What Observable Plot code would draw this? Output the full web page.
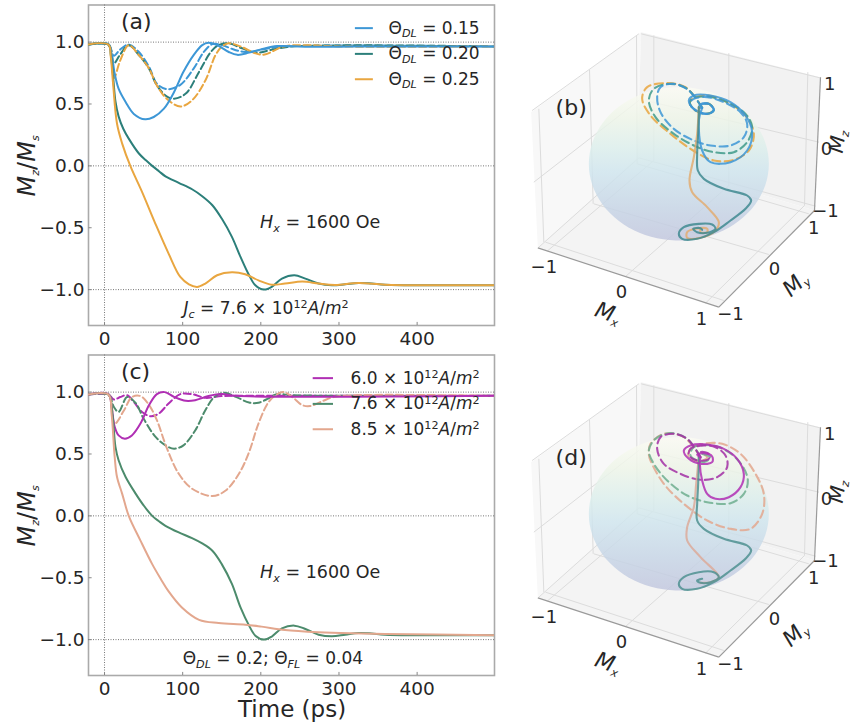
<!DOCTYPE html>
<html><head><meta charset="utf-8">
<script src="https://cdn.jsdelivr.net/npm/d3@7"></script>
<script src="https://cdn.jsdelivr.net/npm/@observablehq/plot@0.6"></script>
<style>
html,body{margin:0;padding:0;background:#fff}
#fig{position:relative;width:851px;height:725px;overflow:hidden;background:#fff;font-family:"DejaVu Sans"}
#fig svg{position:absolute;overflow:visible;background:transparent}
</style></head><body><div id="fig"></div>
<script>
// ---------- time traces: [time (ps), Mz/Ms] ----------
const aSolid015=[[-21,.98],[5,.984],[9,.908],[13,.746],[18,.624],[27,.516],[37.5,.42],[52,.376],[63,.395],[76,.462],[89,.597],[101,.76],[114,.895],[125,.976],[133,.995],[144,.976],[159,.92],[170,.897],[185,.915],[200,.94],[221,.968],[260,.962],[320,.965],[500,.965]];
const aSolid020=[[-21,.98],[5,.98],[8,.9],[11,.72],[14,.52],[18,.4],[24,.3],[31,.22],[44,.1],[53,.045],[61,0],[70,-.045],[78,-.085],[95,-.137],[112,-.189],[125,-.245],[138,-.318],[150,-.426],[163,-.574],[174,-.736],[185,-.884],[193,-.965],[204,-1],[214,-.978],[227,-.911],[243,-.884],[257,-.911],[274,-.951],[291,-.965],[308,-.957],[325,-.946],[342,-.951],[359,-.96],[420,-.965],[500,-.965]];
const aSolid025=[[-21,.98],[5,.98],[8,.88],[11,.66],[16,.34],[22.6,.18],[33,0],[48,-.21],[65,-.466],[82,-.709],[97,-.898],[108,-.957],[118.5,-.978],[129,-.951],[144,-.884],[163,-.86],[180,-.876],[197,-.925],[214,-.96],[231,-.951],[253,-.935],[274,-.951],[295,-.962],[325,-.946],[359,-.96],[420,-.965],[500,-.965]];
const aDash015=[[-21,.98],[5,.98],[12,.89],[20,.94],[31,.98],[44,.92],[57,.8],[67,.665],[80,.62],[97,.655],[114,.786],[127,.92],[138,.984],[150,.976],[168,.935],[185,.92],[205,.945],[230,.965],[500,.965]];
const aDash020=[[-21,.98],[5,.98],[12,.83],[20,.9],[31,.975],[44,.895],[57,.786],[67,.65],[80,.56],[89,.543],[104,.584],[121,.76],[136,.92],[146,.976],[159,.99],[176,.95],[195,.915],[215,.94],[240,.965],[500,.965]];
const aDash025=[[-21,.98],[5,.98],[12,.71],[20,.85],[31,.975],[44,.895],[57,.786],[67,.65],[80,.54],[97,.48],[112,.53],[129,.69],[142,.895],[150,.962],[159,.99],[176,.96],[193,.91],[205,.9],[229,.965],[260,.975],[300,.965],[500,.965]];

const cSolid60=[[-21,.98],[5,.984],[9,.88],[13,.72],[18,.65],[26,.624],[35,.65],[46,.746],[57,.895],[67,.984],[77,1],[89,.962],[104,.93],[116,.935],[133,.968],[150,.984],[168,.97],[500,.97]];
const cSolid76=[[-21,.98],[5,.98],[10,.827],[14,.557],[18,.449],[27,.314],[40,.178],[50,.085],[61,0],[70,-.045],[78,-.08],[95,-.134],[112,-.18],[125,-.223],[138,-.282],[150,-.39],[163,-.55],[174,-.74],[185,-.887],[193,-.968],[204,-1],[214,-.975],[227,-.909],[243,-.887],[257,-.914],[274,-.96],[291,-.973],[308,-.96],[325,-.946],[342,-.95],[359,-.96],[500,-.965]];
const cSolid85=[[-21,.98],[5,.98],[9,.827],[13,.476],[16,.314],[22.6,.178],[31,0],[46,-.2],[61,-.39],[72,-.51],[82,-.61],[99,-.74],[121,-.84],[146,-.866],[180,-.879],[201,-.895],[231,-.922],[274,-.94],[316,-.949],[359,-.954],[500,-.965]];
const cDash60=[[-21,.98],[5,.98],[12,.94],[20,.96],[29,.975],[37.5,.92],[48,.84],[59,.805],[69.5,.827],[82,.908],[97,.984],[112,.984],[129,.954],[150,.968],[180,.97],[500,.97]];
const cDash76=[[-21,.98],[5,.98],[12,.88],[18,.84],[29,.96],[40,.91],[50,.786],[65,.64],[78,.57],[89,.543],[101,.57],[116,.69],[129,.854],[140,.957],[153,.995],[168,.962],[185,.916],[197,.914],[210,.95],[221,.984],[240,.975],[500,.97]];
const cDash85=[[-21,.98],[5,.98],[13,.746],[25,.854],[35,.96],[46,.968],[57,.895],[67,.773],[80,.543],[95,.34],[112,.22],[138,.16],[155,.205],[172,.34],[185,.516],[197,.746],[210,.92],[221,.984],[229,1],[240,.962],[253,.895],[263,.887],[280,.93],[293,.96],[320,.975],[500,.97]];

const bSolid015=[[70,173],[60,135],[70,45],[95,10],[155,10],[205,45],[220,100],[200,150],[155,190],[95,210],[45,210],[30,195],[45,170],[85,155],[105,165],[90,185],[67,185],[60,173],[70,173]];
const bDash015=[[70,173],[30,225],[-15,245],[-55,235],[-65,205],[-55,160],[-15,110],[45,75],[95,60],[155,60],[195,85],[205,125],[185,160],[135,190],[85,205],[45,200],[33,187],[50,165],[85,155],[105,167],[90,185],[67,183]];
const bDash020=[[70,173],[25,230],[-25,245],[-75,230],[-90,195],[-70,145],[-15,95],[45,60],[105,40],[165,40],[205,70],[220,115],[200,155],[145,190],[85,207],[40,200],[33,187],[50,165],[85,155],[105,167],[90,185],[67,183]];
const bDash025=[[70,173],[20,235],[-35,247],[-95,235],[-110,200],[-85,150],[-25,95],[35,50],[105,15],[165,17],[210,45],[225,95],[200,150],[145,190],[85,210],[40,200],[33,187],[50,165],[85,155],[105,167],[90,185],[67,183]];
const bSolid020=[[60,175],[60,155],[58,95],[55,35],[57,-15],[75,-40],[135,-70],[205,-90],[217,-105],[200,-130],[155,-165],[105,-200],[55,-220],[10,-220],[0,-205],[15,-185],[60,-175],[100,-177],[110,-190],[85,-202],[55,-200],[43,-190],[65,-188],[70,-193]];
const bSolid025=[[60,175],[55,95],[45,25],[32,-45],[40,-80],[85,-125],[120,-170],[110,-195],[65,-217],[25,-217],[25,-200],[50,-190],[85,-190],[85,-200],[65,-200],[65,-190]];

const dSolid60=[[65,175],[63,155],[70,105],[85,65],[110,50],[150,55],[185,85],[195,125],[175,170],[135,200],[85,213],[35,210],[15,195],[30,170],[65,155],[100,160],[100,177],[75,187],[55,183],[65,175]];
const dDash60=[[65,175],[25,230],[-15,245],[-55,235],[-65,200],[-45,155],[5,125],[65,107],[115,115],[145,145],[140,180],[110,205],[75,210],[35,200],[30,180],[55,165],[90,170],[90,185],[65,190],[60,175]];
const dDash76=[[65,175],[25,230],[-25,247],[-70,230],[-90,195],[-75,155],[-35,105],[25,60],[85,40],[155,37],[195,65],[207,105],[190,150],[150,190],[100,210],[45,205],[35,180],[75,160],[95,175],[70,185]];
const dDash85=[[65,175],[15,235],[-45,245],[-85,215],[-90,185],[-85,165],[-45,95],[15,35],[85,-15],[155,-40],[215,-40],[250,5],[255,65],[230,125],[185,185],[130,215],[75,215],[35,200],[30,175],[65,163],[85,175],[70,185]];
const dSolid76=[[60,175],[60,155],[58,95],[55,35],[55,-15],[75,-40],[135,-70],[205,-90],[217,-105],[200,-130],[155,-165],[105,-200],[55,-220],[10,-220],[0,-205],[15,-185],[60,-170],[105,-170],[120,-185],[95,-200],[65,-202],[55,-195],[70,-190]];
const dSolid85=[[60,175],[52,95],[45,25],[25,-35],[25,-75],[65,-125],[120,-185],[95,-200],[65,-202]];

// box of the 3D view
const wallLeft=[[-423,-247],[-443,160],[-113,400],[-125,25]];
const wallBack=[[-125,25],[-113,400],[425,265],[407,-135]];
const wallFloor=[[-423,-247],[120,-425],[407,-135],[-125,25]];
const gridSegments=[[-75,390,-75,15],[150,337,150,-60],[387,280,377,-120],[-420,170,-405,-230],[-268,287,-257,-115],[-127,390,-125,5],[-113,395,423,263],[-440,165,-120,395],[-100,195,420,70],[-435,-50,-120,195],[-120,23,410,-122],[-420,-245,-120,23],[-395,-257,-75,15],[-160,-333,150,-60],[80,-413,377,-120],[-400,-230,135,-405],[-255,-115,270,-267],[-125,5,390,-145]];
const axisSegments=[[-423,-247,120,-425],[120,-425,407,-135],[407,-135,425,265]];
const cubeTicks=[{u:-405,v:-305,t:"−1"},{u:-172,v:-380,t:"0"},{u:68,v:-460,t:"1"},{u:155,v:-445,t:"−1"},{u:287,v:-310,t:"0"},{u:405,v:-188,t:"1"},{u:440,v:-138,t:"−1"},{u:443,v:50,t:"0"},{u:453,v:245,t:"1"}];
const cubeAxisLabels=[{u:-213,v:-443,t:"*M*_{x}",r:20,s:22},{u:350,v:-355,t:"*M*_{y}",r:-42,s:22},{u:477,v:72,t:"*M*_{z}",r:-82,s:20}];

// ---------- labels / ticks ----------
const xTicks=[0,100,200,300,400];
const yTicks=[-1,-.5,0,.5,1];
const legendA=["Θ_{DL} = 0.15","Θ_{DL} = 0.20","Θ_{DL} = 0.25"];
const legendC=["6.0 × 10^{12}*A*/*m*^{2}","7.6 × 10^{12}*A*/*m*^{2}","8.5 × 10^{12}*A*/*m*^{2}"];
const legendY=[1.113,.905,.70];
const colorsA=["#3d97d6","#2c7f7a","#e9a640"];
const colorsC=["#b02fb4","#4c8b6c","#e3a78e"];

function richify(svg){
  svg.querySelectorAll("text").forEach(el=>{
    const s=el.textContent;
    if(!/[*_^]/.test(s))return;
    el.textContent="";
    let shift=0;
    const size=parseFloat(el.getAttribute("font-size")||getComputedStyle(el).fontSize)||16;
    for(const tok of s.match(/\*[^*]+\*|_\{[^}]*\}|\^\{[^}]*\}|[^*_^]+/g)){
      const ts=document.createElementNS("http://www.w3.org/2000/svg","tspan");
      let want=0,txt=tok;
      if(tok[0]==="*"){txt=tok.slice(1,-1);ts.setAttribute("font-style","italic");}
      else if(tok[0]==="_"){txt=tok.slice(2,-1);want=size*.22;ts.setAttribute("font-size",size*.7);ts.setAttribute("font-style","italic");}
      else if(tok[0]==="^"){txt=tok.slice(2,-1);want=-size*.36;ts.setAttribute("font-size",size*.7);}
      if(want!==shift)ts.setAttribute("dy",want-shift);
      shift=want;ts.textContent=txt;el.appendChild(ts);
    }
  });
  return svg;
}

const line=(data,color,dash)=>Plot.line(data,{x:d=>d[0],y:d=>d[1],stroke:color,strokeWidth:2,strokeDasharray:dash?"7,3.5":null,curve:"catmull-rom",clip:true});

function timePanel({top,height,marginBottom,name,solids,dashes,colors,legend,lx1,lx2,lend,foot,footX,time}){
  const marks=[
    Plot.frame({stroke:"#aaa",strokeWidth:1.6}),
    Plot.ruleY([1,0,-1],{stroke:"#777",strokeWidth:1,strokeDasharray:"1,1.5"}),
    Plot.ruleX([0],{stroke:"#777",strokeWidth:1,strokeDasharray:"1,1.5"}),
    Plot.ruleX(xTicks,{y1:-1.29,y2:-1.265,stroke:"#888"}),
    Plot.link(yTicks,{x1:-20.5,x2:-16.5,y1:d=>d,y2:d=>d,stroke:"#888"}),
    Plot.axisX({ticks:xTicks,tickSize:0,tickPadding:6,fontSize:18.5,label:null,color:"#262626"}),
    Plot.axisY({ticks:yTicks,tickSize:0,tickPadding:4,fontSize:18.5,label:null,tickFormat:d3.format(".1f"),color:"#262626"}),
    ...dashes.map((d,i)=>line(d,colors[i],true)),
    ...solids.map((d,i)=>line(d,colors[i],false)),
    ...legendY.map((y,i)=>Plot.ruleY([y],{x1:lx1,x2:lx2,stroke:colors[i],strokeWidth:2})),
    Plot.text(legend,{x:lend,y:(d,i)=>legendY[i],textAnchor:"end",fontSize:17,fill:"#262626"}),
    Plot.text([name],{x:()=>21,y:()=>1.16,textAnchor:"start",fontSize:22,fill:"#262626"}),
    Plot.text(["*H*_{x} = 1600 Oe"],{x:()=>199,y:()=>-.457,textAnchor:"start",fontSize:17.5,fill:"#262626"}),
    Plot.text([foot],{x:()=>footX,y:()=>-1.155,textAnchor:"start",fontSize:17,fill:"#262626"}),
    Plot.text(["*M*_{z}/*M*_{s}"],{frameAnchor:"left",dx:-61,y:()=>0,rotate:-90,textAnchor:"middle",fontSize:24,fill:"#262626"})
  ];
  if(time)marks.push(Plot.text(["Time (ps)"],{x:()=>240,frameAnchor:"bottom",lineAnchor:"middle",dy:34,fontSize:23,fill:"#262626"}));
  const svg=Plot.plot({width:510,height,marginLeft:88,marginRight:16,marginTop:4.5,marginBottom,
    x:{domain:[-20.5,499],axis:null},y:{domain:[-1.29,1.3],axis:null},
    style:{fontFamily:"DejaVu Sans",background:"transparent"},marks});
  svg.style.left="0px";svg.style.top=top+"px";
  document.getElementById("fig").appendChild(richify(svg));
}

function spherePoints(){return d3.range(0,361,4).map(a=>[270*Math.cos(a*Math.PI/180),5+230*Math.sin(a*Math.PI/180)]);}

function cubePanel({top,name,id,dashed,solid}){
  const defs=()=>{
    const g=d3.create("svg:defs");
    const lg=g.append("linearGradient").attr("id",id).attr("x1",0).attr("y1",0).attr("x2",0).attr("y2",1);
    [[0,"#fbfbf3"],[.2,"#eef5e8"],[.4,"#dbeeec"],[.55,"#cfe5ee"],[.78,"#c6d5e6"],[1,"#c1c6de"]].forEach(([o,c])=>lg.append("stop").attr("offset",o).attr("stop-color",c));
    return g.node();
  };
  const P={x:d=>d[0],y:d=>d[1]};
  const seg=(data,stroke,strokeWidth)=>Plot.link(data,{x1:d=>d[0],y1:d=>d[1],x2:d=>d[2],y2:d=>d[3],stroke,strokeWidth});
  const svg=Plot.plot({width:341,height:350,margin:0,
    x:{domain:[-505,518],axis:null},y:{domain:[-555,495],axis:null},
    style:{fontFamily:"DejaVu Sans",background:"transparent"},
    marks:[
      defs,
      Plot.line(wallLeft,{...P,fill:"#f8f8f8",stroke:"none"}),
      Plot.line(wallBack,{...P,fill:"#f2f2f2",stroke:"none"}),
      Plot.line(wallFloor,{...P,fill:"#f4f4f4",stroke:"none"}),
      seg(gridSegments,"#dcdcdc",1),
      seg(axisSegments,"#9a9a9a",1.2),
      Plot.line(spherePoints(),{...P,fill:`url(#${id})`,stroke:"none",fillOpacity:.82}),
      ...dashed.map(([d,c])=>Plot.line(d,{...P,stroke:c,strokeWidth:2.1,strokeOpacity:.85,strokeDasharray:"8,4.5",curve:"catmull-rom"})),
      ...solid.map(([d,c])=>Plot.line(d,{...P,stroke:c,strokeWidth:2.1,strokeOpacity:.85,curve:"catmull-rom"})),
      Plot.text(cubeTicks,{x:"u",y:"v",text:"t",fontSize:18,fill:"#262626"}),
      ...cubeAxisLabels.map(l=>Plot.text([l],{x:"u",y:"v",text:"t",rotate:l.r,fontSize:l.s,fill:"#262626"})),
      Plot.text([name],{x:()=>-323,y:()=>173,fontSize:22,fill:"#262626"})
    ]});
  svg.style.left="510px";svg.style.top=top+"px";
  document.getElementById("fig").appendChild(richify(svg));
}

timePanel({top:0,height:350,marginBottom:25,name:"(a)",solids:[aSolid015,aSolid020,aSolid025],dashes:[aDash015,aDash020,aDash025],colors:colorsA,legend:legendA,lx1:321,lx2:344,lend:480,foot:"*J*_{c} = 7.6 × 10^{12}*A*/*m*^{2}",footX:101});
timePanel({top:350,height:375,marginBottom:50,name:"(c)",solids:[cSolid60,cSolid76,cSolid85],dashes:[cDash60,cDash76,cDash85],colors:colorsC,legend:legendC,lx1:267,lx2:293,lend:480,foot:"Θ_{DL} = 0.2; Θ_{FL} = 0.04",footX:100,time:true});
cubePanel({top:0,name:"(b)",id:"sphB",dashed:[[bDash025,"#e9a640"],[bDash020,"#3f9a8a"],[bDash015,"#3d97d6"]],solid:[[bSolid015,"#3d97d6"],[bSolid025,"#e2ad72"],[bSolid020,"#3f8a90"]]});
cubePanel({top:350,name:"(d)",id:"sphD",dashed:[[dDash85,"#e3a78e"],[dDash76,"#6fae8f"],[dDash60,"#a22fa4"]],solid:[[dSolid85,"#dcaa9a"],[dSolid76,"#4f9090"],[dSolid60,"#b02fb4"]]});
</script></body></html>
